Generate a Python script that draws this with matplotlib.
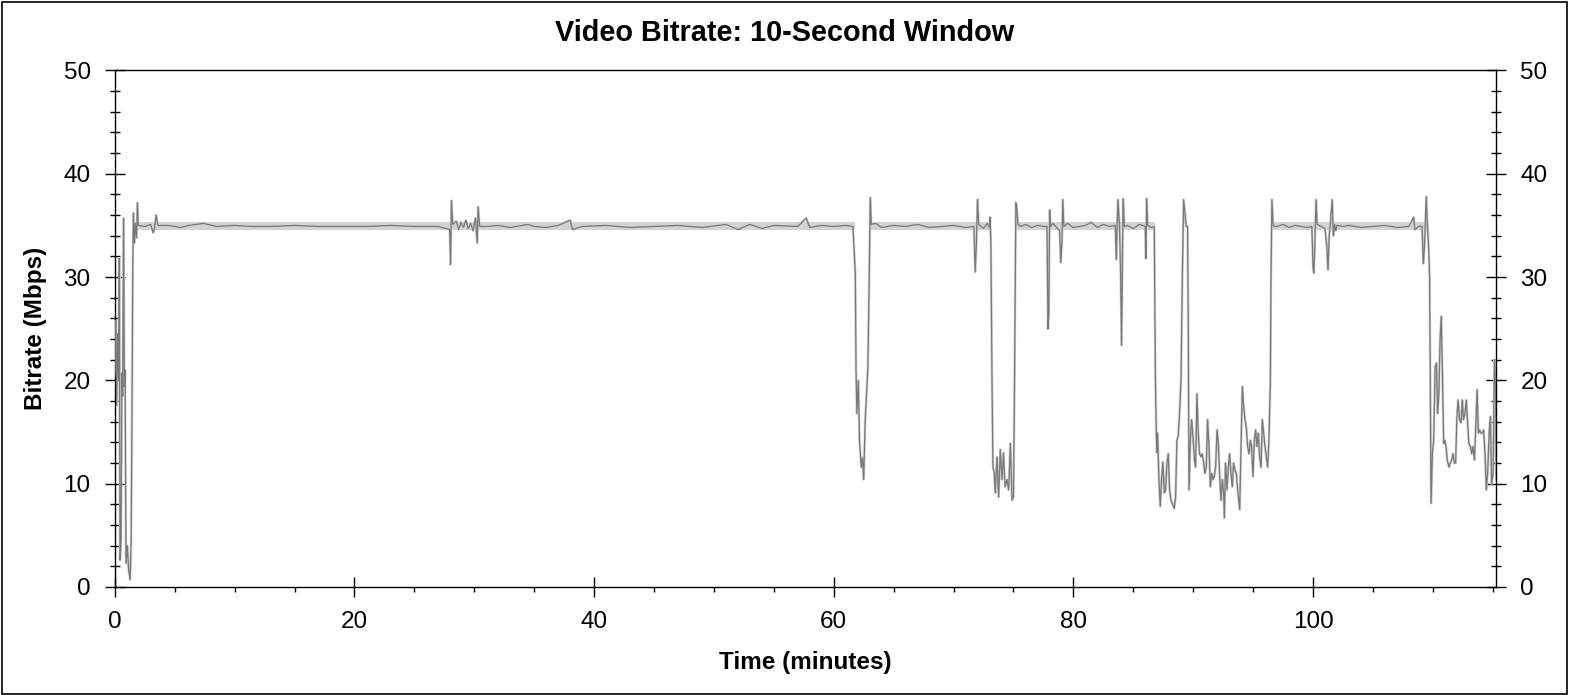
import matplotlib.pyplot as plt
from matplotlib.patches import Rectangle
from matplotlib.ticker import MultipleLocator

plt.rcParams['font.family'] = ['Liberation Sans', 'DejaVu Sans']

# tempo (minutos) e bitrate (Mbps)
start_t = [0.0, 0.08, 0.16, 0.24, 0.32, 0.38, 0.44, 0.52, 0.6, 0.66, 0.74, 0.8, 0.86,
           0.94, 1.05, 1.15, 1.28, 1.36, 1.42, 1.5, 1.55, 1.64, 1.72, 1.82, 1.89, 1.96]
start_v = [20.5, 25.8, 17.6, 24.5, 20.0, 31.8, 2.6, 4.5, 20.7, 18.5, 35.7, 19.4, 21.0,
           2.3, 4.0, 1.8, 0.7, 4.0, 13.3, 30.0, 36.2, 33.3, 35.2, 33.8, 37.2, 35.0]

flat1_t = [2.5, 3.0, 3.2, 3.3, 3.45, 3.6, 4.5, 5.5, 6.2, 7.4, 8.5, 10, 11.5, 13, 15, 17,
           19, 21, 23, 25, 27, 27.95, 28.02, 28.1, 28.2, 28.5, 28.7, 28.9, 29.1, 29.3,
           29.5, 29.7, 29.9, 30.1, 30.25, 30.32, 30.45, 31, 32, 33, 34.5, 35, 36, 37,
           38, 38.2, 39, 41, 43, 45, 47, 49, 51, 52, 53, 54, 55, 57, 57.7, 58, 59, 60,
           61, 61.6]
flat1_v = [34.9, 35.1, 34.3, 34.6, 36.0, 35.0, 35.0, 34.8, 35.0, 35.2, 34.9, 35.0, 34.9,
           34.9, 35.0, 34.9, 34.9, 34.9, 35.0, 34.9, 34.9, 34.6, 31.2, 37.4, 35.1, 35.4,
           34.6, 35.3, 34.8, 35.5, 34.7, 35.2, 34.5, 35.7, 33.3, 36.8, 34.9, 34.9, 35.0,
           34.8, 35.1, 34.9, 34.8, 35.0, 35.5, 34.6, 34.9, 35.0, 34.8, 34.9, 35.0, 34.8,
           35.1, 34.6, 35.1, 34.7, 35.0, 34.9, 35.7, 34.8, 35.0, 34.9, 35.0, 34.9]

dip62_t = [61.8, 61.86, 61.93, 62.05, 62.15, 62.3, 62.4, 62.5, 62.63, 62.77, 62.85,
           62.96, 63.05, 63.13]
dip62_v = [30.4, 21.0, 16.8, 20.0, 14.2, 11.6, 12.5, 10.4, 16.2, 19.4, 21.3,
           29.7, 37.7, 35.1]

flat2_t = [63.5, 64, 65, 66, 67, 68, 69, 70, 71, 71.7, 71.8, 71.9, 72.0, 72.1, 72.5,
           72.8, 73.0, 73.05]
flat2_v = [35.2, 34.8, 35.0, 34.9, 35.1, 34.8, 34.9, 35.0, 34.8, 34.9, 30.5, 33.0,
           37.5, 35.1, 34.7, 35.2, 34.8, 35.8]

dip74_t = [73.12, 73.2, 73.29, 73.4, 73.48, 73.62, 73.76, 73.9, 74.04, 74.17, 74.3,
           74.46, 74.6, 74.74, 74.88, 75.0, 75.09, 75.2, 75.28, 75.37]
dip74_v = [33.0, 21.0, 11.6, 11.0, 9.1, 12.6, 8.7, 13.3, 10.4, 13.0, 9.7, 10.4, 9.4,
           13.9, 8.4, 8.7, 20.0, 37.2, 36.8, 35.1]

flat3_t = [75.6, 76, 76.5, 77, 77.5, 77.8, 77.88, 77.95, 78.02, 78.1, 78.3, 78.6, 78.85,
           78.95, 79.05, 79.12, 79.2, 79.5, 80, 81, 81.5, 82, 82.5, 83, 83.5, 83.58,
           83.65, 83.72, 83.85, 83.95, 84.02, 84.08, 84.15, 84.25, 84.5, 85, 85.5, 86.0,
           86.05, 86.12, 86.2, 86.5, 86.75]
flat3_v = [34.9, 35.1, 34.8, 35.0, 34.9, 34.9, 25.0, 26.5, 36.5, 34.9, 35.2, 34.8, 34.5,
           31.4, 33.5, 37.5, 34.9, 35.2, 34.8, 35.0, 35.3, 34.8, 35.1, 34.9, 35.0, 31.7,
           35.0, 37.5, 34.9, 30.0, 23.4, 30.0, 37.6, 34.9, 35.0, 34.7, 35.1, 34.9,
           31.8, 37.6, 35.0, 34.8, 34.9]

dip90_t = [86.84, 86.92, 86.97, 87.03, 87.14, 87.25, 87.36, 87.47, 87.59, 87.7, 87.8,
           87.92, 88.03, 88.14, 88.25, 88.42, 88.53, 88.64, 88.75, 88.86, 88.98, 89.09,
           89.2, 89.31, 89.42, 89.53, 89.59, 89.65, 89.76, 89.87, 89.98, 90.1, 90.2,
           90.31, 90.42, 90.53, 90.65, 90.75, 90.87, 90.98, 91.09, 91.2, 91.32, 91.43,
           91.54, 91.65, 91.76, 91.87, 91.99, 92.1, 92.2, 92.32, 92.43, 92.54, 92.6,
           92.7, 92.82, 92.93, 93.04, 93.15, 93.26, 93.37, 93.49, 93.6, 93.71, 93.88,
           93.99, 94.1, 94.21, 94.32, 94.43, 94.54, 94.66, 94.77, 94.87, 94.99, 95.1,
           95.21, 95.32, 95.43, 95.54, 95.66, 95.77, 95.88, 95.99, 96.1, 96.21, 96.32,
           96.44, 96.49, 96.57, 96.66, 96.72]
dip90_v = [20.7, 14.9, 13.0, 14.9, 10.4, 7.8, 10.4, 12.1, 9.1, 9.4, 12.0,
           12.9, 9.4, 8.4, 8.1, 7.6, 8.7, 14.2, 14.6, 16.8, 20.0, 29.7,
           37.5, 36.2, 34.9, 34.9, 24.9, 9.4, 14.2, 16.2, 14.6, 12.3, 11.6,
           18.7, 14.9, 12.9, 12.6, 12.9, 12.0, 11.0, 11.6, 16.2, 13.6, 9.7,
           11.0, 10.4, 10.7, 11.6, 15.2, 13.9, 11.0, 8.4, 10.4, 9.1, 6.7,
           12.0, 9.4, 11.6, 12.9, 11.0, 9.7, 12.0, 11.3, 11.0, 9.4, 7.5,
           13.6, 19.4, 17.5, 16.2, 15.5, 13.6, 12.9, 14.2, 13.6, 10.7, 14.2,
           15.2, 13.6, 14.9, 12.6, 11.6, 16.2, 14.9, 13.6, 12.6, 11.6, 14.2,
           20.0, 29.7, 37.5, 35.2, 34.9]

flat4_t = [97, 97.5, 98, 98.5, 99, 99.5, 99.9, 100.0, 100.07, 100.15, 100.25, 100.35,
           100.7, 101.0, 101.15, 101.25, 101.35, 101.45, 101.6, 101.7, 101.8, 101.9,
           102.0, 102.5, 103, 104, 105, 106, 107, 108, 108.4, 108.5, 108.8, 109.1,
           109.2, 109.3, 109.45, 109.55, 109.65, 109.73]
flat4_v = [34.9, 35.1, 34.8, 35.0, 34.9, 34.8, 34.9, 31.0, 30.4, 33.0, 37.5, 35.1,
           34.9, 34.7, 33.0, 30.7, 34.0, 35.2, 37.5, 34.0, 35.1, 34.5,
           35.0, 34.9, 35.0, 34.8, 34.9, 35.0, 34.8, 34.9, 35.8, 34.6, 34.9, 34.9,
           31.3, 33.0, 37.8, 34.9, 32.9, 30.0]

end_t = [109.85, 109.96, 110.07, 110.19, 110.3, 110.4, 110.5, 110.6, 110.7, 110.8,
         110.9, 111.0, 111.1, 111.2, 111.35, 111.46, 111.57, 111.68, 111.8, 111.9,
         112.0, 112.1, 112.23, 112.35, 112.45, 112.56, 112.68, 112.79, 112.9, 113.0,
         113.13, 113.24, 113.35, 113.47, 113.58, 113.69, 113.8, 113.9, 114.0, 114.13,
         114.24, 114.35, 114.46, 114.57, 114.7, 114.8, 114.9, 115.03, 115.14, 115.22,
         115.3]
end_v = [8.1, 12.9, 14.2, 21.3, 21.7, 16.8, 18.7, 23.9, 26.2, 20.7,
         13.9, 14.2, 13.6, 12.3, 11.6, 12.0, 12.3, 12.9, 12.0, 12.0,
         16.2, 18.1, 16.2, 15.9, 18.1, 16.2, 16.8, 18.1, 15.9, 13.9,
         13.6, 12.9, 13.6, 12.3, 15.5, 19.1, 14.9, 15.2, 14.9, 14.9,
         15.2, 12.9, 9.4, 11.0, 14.9, 16.5, 10.0, 11.0, 22.0, 20.0,
         10.4]

# faixa clara (min/max) nos trechos estaveis
band_segments = [(1.9, 61.75), (63.1, 73.1), (75.3, 86.8), (96.6, 109.7)]
band_lo = 34.55
band_hi = 35.3

time = (start_t + flat1_t + dip62_t + flat2_t + dip74_t + flat3_t + dip90_t
        + flat4_t + end_t)
rate = (start_v + flat1_v + dip62_v + flat2_v + dip74_v + flat3_v + dip90_v
        + flat4_v + end_v)

fig = plt.figure(figsize=(15.7, 6.95), dpi=100)
ax = fig.add_axes([0.0731, 0.1554, 0.88, 0.7432])

# faixa
for a, b in band_segments:
    ax.fill_between([a, b], [band_lo, band_lo], [band_hi, band_hi],
                    color='#d3d3d3', linewidth=0, zorder=1)

# linha
ax.plot(time, rate, color='#d0d0d0', linewidth=1.8, zorder=2)
ax.plot(time, rate, color='#787878', linewidth=0.9, zorder=3)

ax.set_xlim(0, 115.3)
ax.set_ylim(0, 50)

ax.xaxis.set_major_locator(MultipleLocator(20))
ax.xaxis.set_minor_locator(MultipleLocator(5))
ax.yaxis.set_major_locator(MultipleLocator(10))
ax.yaxis.set_minor_locator(MultipleLocator(2))

ax.tick_params(axis='x', which='major', direction='inout', length=13.7, width=1,
               labelsize=17.5, pad=10.5, top=False)
ax.tick_params(axis='x', which='minor', direction='out', length=3.3, width=1, top=False)
ax.tick_params(axis='y', which='major', direction='inout', length=13.7, width=1,
               labelsize=17.5, pad=10.5, left=True, right=True, labelright=True)
ax.tick_params(axis='y', which='minor', direction='inout', length=6.5, width=1,
               left=True, right=True)

for s in ax.spines.values():
    s.set_linewidth(1.0)

ax.set_xlabel('Time (minutes)', fontsize=17.5, fontweight='bold', labelpad=13)
ax.set_ylabel('Bitrate (Mbps)', fontsize=17.5, fontweight='bold', labelpad=12)
fig.suptitle('Video Bitrate: 10-Second Window', fontsize=20.8, fontweight='bold',
             x=0.5, y=1 - 33 / 695, va='center')

# borda externa
fig.patches.append(Rectangle((0.001, 0.0015), 0.997, 0.996, transform=fig.transFigure,
                             fill=False, edgecolor='black', linewidth=1.2))

fig.savefig('out.png', dpi=100)
